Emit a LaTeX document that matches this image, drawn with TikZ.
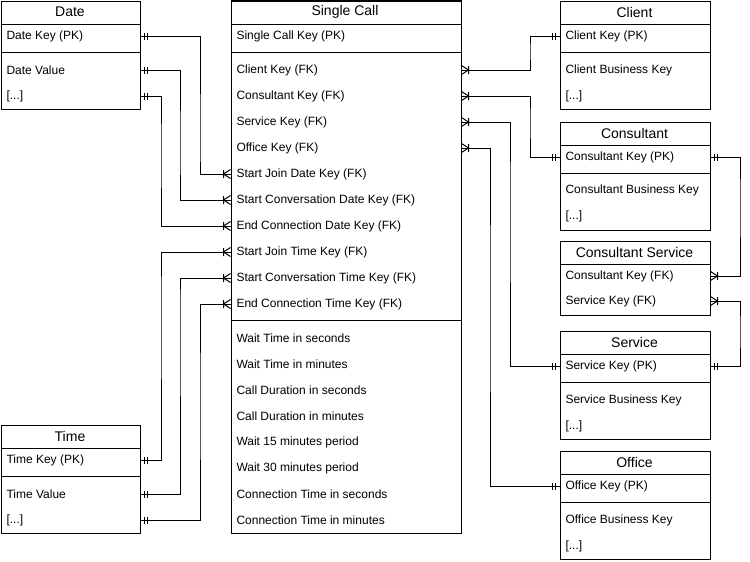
\documentclass[tikz,border=0pt]{standalone}
\usepackage{fontspec}
\setmainfont{Liberation Sans}
\usepackage{tikz}
\usetikzlibrary{positioning}

% mandatory one: two bars
\pgfdeclarearrow{
  name = ERone,
  setup code = {
    \pgfarrowssettipend{0pt}
    \pgfarrowssetlineend{0pt}
    \pgfarrowssetbackend{-8pt}
    \pgfarrowshullpoint{0pt}{4pt}
    \pgfarrowshullpoint{-8pt}{4pt}
    \pgfarrowshullpoint{-8pt}{-4pt}
    \pgfarrowshullpoint{0pt}{-4pt}
  },
  drawing code = {
    \pgfsetdash{}{0pt}
    \pgfpathmoveto{\pgfqpoint{-4pt}{-3.5pt}}
    \pgfpathlineto{\pgfqpoint{-4pt}{3.5pt}}
    \pgfpathmoveto{\pgfqpoint{-7pt}{-3.5pt}}
    \pgfpathlineto{\pgfqpoint{-7pt}{3.5pt}}
    \pgfusepathqstroke
  },
  defaults = {}
}
% one or many: bar and crow's foot
\pgfdeclarearrow{
  name = ERmany,
  setup code = {
    \pgfarrowssettipend{0pt}
    \pgfarrowssetlineend{0pt}
    \pgfarrowssetbackend{-8pt}
    \pgfarrowshullpoint{0pt}{4.5pt}
    \pgfarrowshullpoint{-8pt}{4.5pt}
    \pgfarrowshullpoint{-8pt}{-4.5pt}
    \pgfarrowshullpoint{0pt}{-4.5pt}
  },
  drawing code = {
    \pgfsetdash{}{0pt}
    \pgfpathmoveto{\pgfqpoint{0pt}{4.5pt}}
    \pgfpathlineto{\pgfqpoint{-7pt}{0pt}}
    \pgfpathlineto{\pgfqpoint{0pt}{-4.5pt}}
    \pgfpathmoveto{\pgfqpoint{-7pt}{-4pt}}
    \pgfpathlineto{\pgfqpoint{-7pt}{4pt}}
    \pgfusepathqstroke
  },
  defaults = {}
}

\begin{document}
\begin{tikzpicture}
	[x=1pt,y=-1pt,line width=1pt,
	 entity/.style={rectangle,draw,anchor=north west,inner sep=0pt},
	 head/.style={font=\fontsize{14}{17}\selectfont},
	 attr/.style={anchor=west,inner sep=0pt,font=\fontsize{12}{14}\selectfont},
	 rel/.style={arrows=ERone-ERmany}]
	\useasboundingbox (0,0) rectangle (750,562);

	% date
	\node[entity,minimum width=139pt,minimum height=108.5pt] (date) at (0.5,0.5) {};
	\node[head] (datehead) at (70,12) {Date};
	\node[attr] (datepk)   at (6,36) {Date Key (PK)};
	\node[attr] (dateval)  at (6,70) {Date Value};
	\node[attr] (datemore) at (6,96) {[...]};
	\draw (0.5,24) -- (139.5,24);
	\draw (0.5,52) -- (139.5,52);

	% time
	\node[entity,minimum width=139pt,minimum height=108pt] (time) at (0.5,424.5) {};
	\node[head] (timehead) at (70,436) {Time};
	\node[attr] (timepk)   at (6,460) {Time Key (PK)};
	\node[attr] (timeval)  at (6,494) {Time Value};
	\node[attr] (timemore) at (6,520) {[...]};
	\draw (0.5,448) -- (139.5,448);
	\draw (0.5,476) -- (139.5,476);

	% single call fact
	\node[entity,minimum width=230pt,minimum height=532pt] (call) at (230.5,0.5) {};
	\node[head] (callhead) at (345,12) {Single Call};
	\node[attr] (callpk)   at (236,36) {Single Call Key (PK)};
	\foreach \name/\txt [count=\i] in {callclient/Client Key (FK), callcons/Consultant Key (FK),
		callserv/Service Key (FK), calloff/Office Key (FK),
		sjdate/Start Join Date Key (FK), scdate/Start Conversation Date Key (FK),
		ecdate/End Connection Date Key (FK), sjtime/Start Join Time Key (FK),
		sctime/Start Conversation Time Key (FK), ectime/End Connection Time Key (FK)}
		\node[attr] (\name) at (236,44+26*\i) {\txt};
	\foreach \txt [count=\i] in {Wait Time in seconds, Wait Time in minutes,
		Call Duration in seconds, Call Duration in minutes, Wait 15 minutes period,
		Wait 30 minutes period, Connection Time in seconds, Connection Time in minutes}
		\node[attr] (meas\i) at (236,312+26*\i) {\txt};
	\draw (230.5,24) -- (460.5,24);
	\draw (230.5,52) -- (460.5,52);
	\draw (230.5,320) -- (460.5,320);

	% client
	\node[entity,minimum width=150pt,minimum height=108.5pt] (client) at (559.5,0.5) {};
	\node[head] (clienthead) at (634.5,12) {Client};
	\node[attr] (clientpk)   at (565,36) {Client Key (PK)};
	\node[attr] (clientbk)   at (565,70) {Client Business Key};
	\node[attr] (clientmore) at (565,96) {[...]};
	\draw (559.5,24) -- (709.5,24);
	\draw (559.5,52) -- (709.5,52);

	% consultant
	\node[entity,minimum width=150pt,minimum height=108pt] (consultant) at (559.5,121.5) {};
	\node[head] (conshead) at (634.5,133) {Consultant};
	\node[attr] (conspk)   at (565,157) {Consultant Key (PK)};
	\node[attr] (consbk)   at (565,190) {Consultant Business Key};
	\node[attr] (consmore) at (565,216) {[...]};
	\draw (559.5,145) -- (709.5,145);
	\draw (559.5,173) -- (709.5,173);

	% consultant service
	\node[entity,minimum width=150pt,minimum height=74pt] (consserv) at (559.5,240.5) {};
	\node[head] (cshead) at (634.5,252) {Consultant Service};
	\node[attr] (csconsultant) at (565,276) {Consultant Key (FK)};
	\node[attr] (csservice)    at (565,301) {Service Key (FK)};
	\draw (559.5,264) -- (709.5,264);

	% service
	\node[entity,minimum width=150pt,minimum height=108.5pt] (service) at (559.5,330.5) {};
	\node[head] (servhead) at (634.5,342) {Service};
	\node[attr] (servpk)   at (565,366) {Service Key (PK)};
	\node[attr] (servbk)   at (565,400) {Service Business Key};
	\node[attr] (servmore) at (565,426) {[...]};
	\draw (559.5,354) -- (709.5,354);
	\draw (559.5,382) -- (709.5,382);

	% office
	\node[entity,minimum width=150pt,minimum height=108pt] (office) at (559.5,450.5) {};
	\node[head] (offhead) at (634.5,462) {Office};
	\node[attr] (offpk)   at (565,486) {Office Key (PK)};
	\node[attr] (offbk)   at (565,520) {Office Business Key};
	\node[attr] (offmore) at (565,546) {[...]};
	\draw (559.5,474) -- (709.5,474);
	\draw (559.5,502) -- (709.5,502);

	% relations
	\draw[rel] (date.east |- datepk.west)   -| (200,150) |- (call.west |- sjdate.west);
	\draw[rel] (date.east |- dateval.west)  -| (180,150) |- (call.west |- scdate.west);
	\draw[rel] (date.east |- datemore.west) -| (161,150) |- (call.west |- ecdate.west);
	\draw[rel] (time.east |- timepk.west)   -| (161,300) |- (call.west |- sjtime.west);
	\draw[rel] (time.east |- timeval.west)  -| (180,300) |- (call.west |- sctime.west);
	\draw[rel] (time.east |- timemore.west) -| (200,400) |- (call.west |- ectime.west);
	\draw[rel] (client.west |- clientpk.west) -| (530,50)  |- (call.east |- callclient.west);
	\draw[rel] (consultant.west |- conspk.west) -| (530,120) |- (call.east |- callcons.west);
	\draw[rel] (service.west |- servpk.west) -| (510,200) |- (call.east |- callserv.west);
	\draw[rel] (office.west |- offpk.west)   -| (490,300) |- (call.east |- calloff.west);
	\draw[rel] (consultant.east |- conspk.west) -| (740,200) |- (consserv.east |- csconsultant.west);
	\draw[rel] (service.east |- servpk.west)    -| (740,330) |- (consserv.east |- csservice.west);
\end{tikzpicture}
\end{document}
